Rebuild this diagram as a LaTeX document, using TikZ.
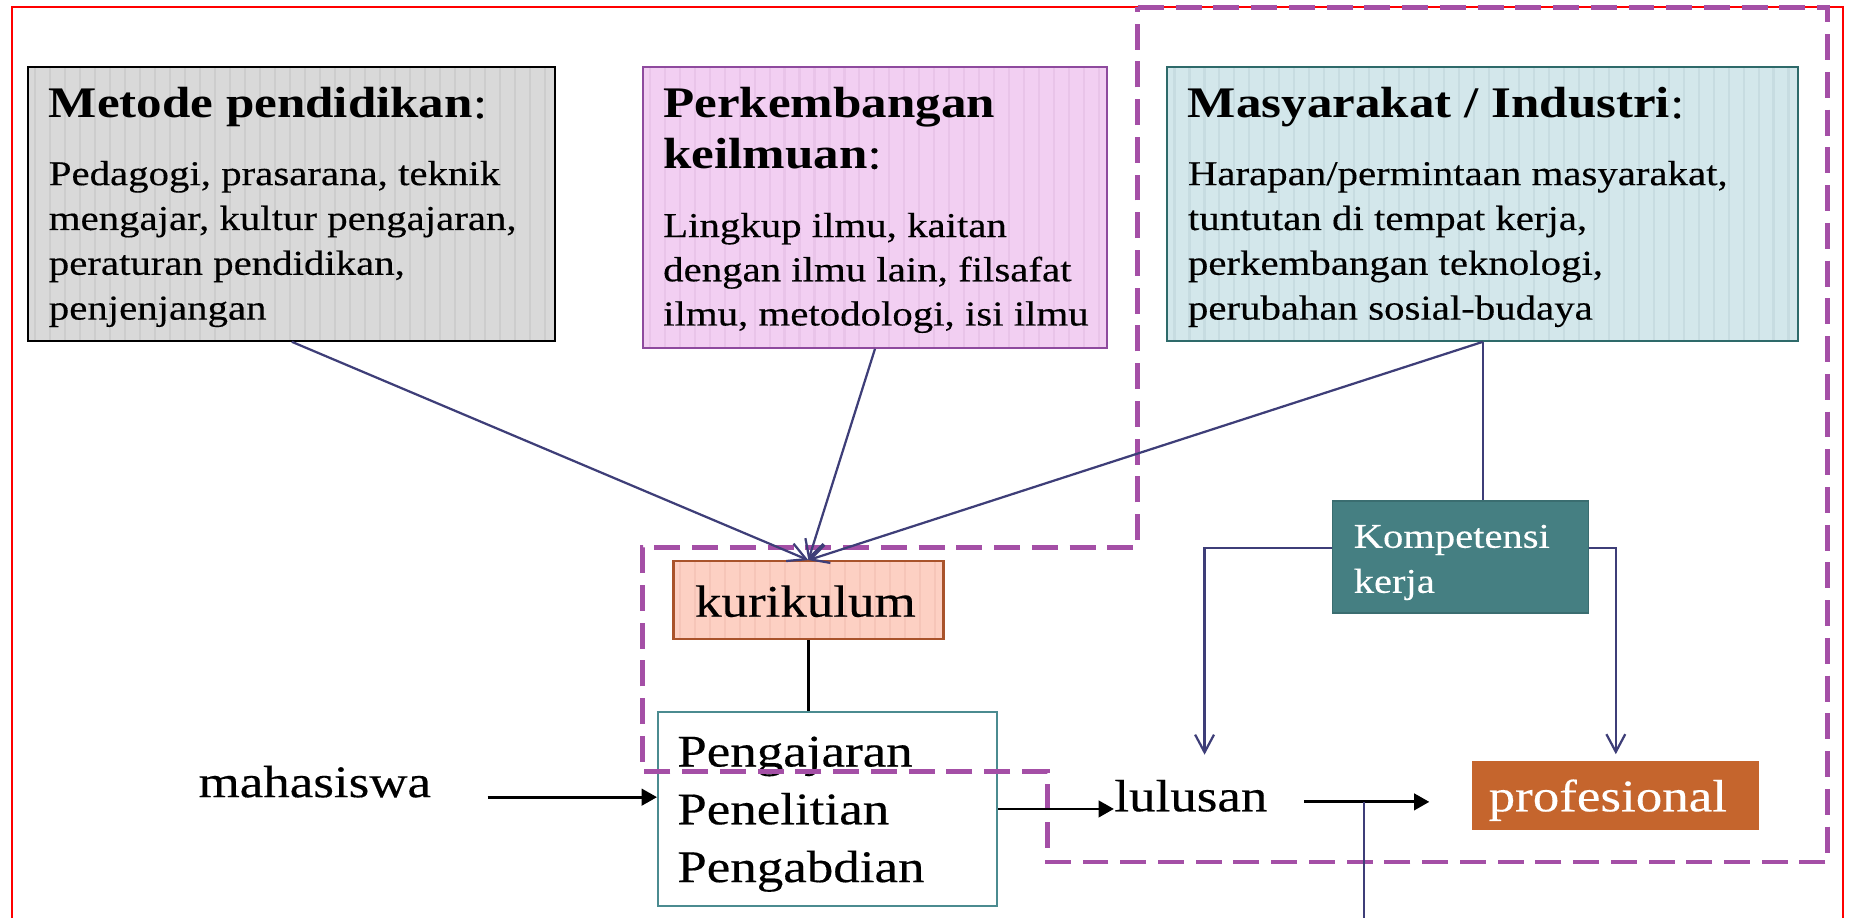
\documentclass[tikz,border=0pt]{standalone}
\usepackage{fontspec}
\setmainfont{Liberation Serif}[FakeStretch=1.17, UprightFeatures={FakeBold=0.3}]
\usetikzlibrary{arrows.meta,calc,fit}

\definecolor{frame}{HTML}{FF0000}
\definecolor{zone}{HTML}{A44FA6}
\definecolor{navy}{HTML}{3E3E78}
\definecolor{grayfill}{HTML}{D9D9D9}
\definecolor{graystripe}{HTML}{CDCDCD}
\definecolor{pinkfill}{HTML}{F2CFF2}
\definecolor{pinkstripe}{HTML}{E9C4E9}
\definecolor{pinkline}{HTML}{8E4A9E}
\definecolor{bluefill}{HTML}{D3E7EB}
\definecolor{bluestripe}{HTML}{C7DCE1}
\definecolor{blueline}{HTML}{2E6A6A}
\definecolor{salmonfill}{HTML}{FDD0C3}
\definecolor{salmonstripe}{HTML}{F6C5B8}
\definecolor{salmonline}{HTML}{A9532B}
\definecolor{tealfill}{HTML}{457F82}
\definecolor{tealline}{HTML}{3A6D70}
\definecolor{tealedge}{HTML}{4B8B90}
\definecolor{orangefill}{HTML}{C5652D}

\begin{document}
\begin{tikzpicture}[x=0.5pt,y=-0.5pt,
  txt/.style={inner sep=0pt, anchor=base west},
  body/.style={txt, font=\fontsize{14.8pt}{17pt}\selectfont},
  head/.style={txt, font=\fontsize{18.5pt}{21pt}\selectfont\bfseries},
  big/.style={txt, font=\fontsize{19.2pt}{22pt}\selectfont},
  small/.style={txt, font=\fontsize{14.7pt}{17pt}\selectfont, text=white},
  panel/.style={draw, inner sep=0pt, line width=0.85pt},
  stripes/.style={path picture={
      \foreach \i in {0,...,90}{
        \draw[#1, line width=0.9pt]
          ([xshift=\i*6.35pt+3pt]path picture bounding box.south west) --
          ([xshift=\i*6.35pt+3pt]path picture bounding box.north west);}}},
  navyline/.style={draw=navy, line width=0.95pt},
  navyarrow/.style={navyline, -{Straight Barb[length=7.5pt,width=8pt]}},
  blackline/.style={draw=black, line width=1.2pt},
  blackarrow/.style={blackline, -{Triangle[length=6.5pt,width=7pt]}},
  zoneline/.style={draw=zone, line width=2.1pt, dash pattern=on 11pt off 5pt}
]
\useasboundingbox (0,0) rectangle (1568,778);
\clip (0,0) rectangle (1568,778);

% outer frame
\draw[frame, line width=0.85pt] (10.5,6) rectangle (1563,820);

% input panels
\node[panel, fill=grayfill, stripes=graystripe, fit={(24,57) (471,289)}] (metode) {};
\node[panel, draw=pinkline, fill=pinkfill, stripes=pinkstripe, fit={(545,57) (939,295)}] (perkem) {};
\node[panel, draw=blueline, fill=bluefill, stripes=bluestripe, fit={(990,57) (1525,289)}] (masy) {};

\node[head] (mt1) at (41,100) {Metode pendidikan{\mdseries :}};
\node[body] (mb1) at (41,157) {Pedagogi, prasarana, teknik};
\node[body] (mb2) at (41,195) {mengajar, kultur pengajaran,};
\node[body] (mb3) at (41,233) {peraturan pendidikan,};
\node[body] (mb4) at (41,271) {penjenjangan};

\node[head] (pt1) at (562,100) {Perkembangan};
\node[head] (pt2) at (562,143) {keilmuan{\mdseries :}};
\node[body] (pb1) at (562,201) {Lingkup ilmu, kaitan};
\node[body] (pb2) at (562,238.5) {dengan ilmu lain, filsafat};
\node[body] (pb3) at (562,276) {ilmu, metodologi, isi ilmu};

\node[head] (st1) at (1007,100) {Masyarakat / Industri{\mdseries :}};
\node[body] (sb1) at (1007,157) {Harapan/permintaan masyarakat,};
\node[body] (sb2) at (1007,195) {tuntutan di tempat kerja,};
\node[body] (sb3) at (1007,233) {perkembangan teknologi,};
\node[body] (sb4) at (1007,271) {perubahan sosial-budaya};

% process boxes
\node[panel, draw=salmonline, line width=1pt, fill=salmonfill, stripes=salmonstripe, fit={(571,476) (800,542)}] (kuri) {};
\node[big] (kurit) at (589,523) {kurikulum};

\node[panel, draw=tealedge, fill=white, fit={(558,604) (845.5,768)}] (peng) {};
\node[big] (pg1) at (574,650) {Pengajaran};
\node[big] (pg2) at (574,699) {Penelitian};
\node[big] (pg3) at (574,748) {Pengabdian};

\node[panel, draw=tealline, line width=0.6pt, fill=tealfill, fit={(1130,425) (1347,520)}] (komp) {};
\node[small] (kp1) at (1147.6,464.5) {Kompetensi};
\node[small] (kp2) at (1147.6,502.7) {kerja};

\node[inner sep=0pt, fill=orangefill, fit={(1248.5,645.5) (1492,704)}] (prof) {};
\node[big, text=white] (proft) at (1262,688) {profesional};

\node[big] (maha) at (168,676) {mahasiswa};
\node[big] (lul) at (944.6,688) {lulusan};

% grouping outline
\draw[zoneline] (965,6) -- (1550,6) -- (1550,731) -- (888,731) -- (888,654.5)
  -- (545,654.5) -- (545,464) -- (965,464) -- cycle;

% influences on the curriculum
\draw[navyarrow] (metode.south) -- (kuri.north);
\draw[navyarrow] (perkem.south) -- (kuri.north);
\draw[navyarrow] (masy.south) -- (kuri.north);
\draw[navyline] (masy.south) -- (masy.south |- komp.north);

% competence branches
\coordinate (kl) at ($(komp.west)+(0,-7.5)$);
\coordinate (kr) at ($(komp.east)+(0,-7.5)$);
\coordinate (lulin) at (1021.5,640);
\coordinate (profin) at ($(prof.north)+(0,-5.5)$);
\draw[navyarrow] (kl) -| (lulin);
\draw[navyarrow] (kr) -| (profin);

% main flow
\draw[blackline] (kuri.south) -- (kuri.south |- peng.north);
\coordinate (mahaout) at ($(maha.base east)+(47.6,0)$);
\draw[blackarrow] (mahaout) -- (mahaout -| peng.west);
\draw[blackarrow] (peng.east) -- (peng.east -| lul.west);
\coordinate (lulout) at ($(lul.base east)+(31,-8)$);
\draw[blackarrow, shorten >=18pt] (lulout) -- (lulout -| prof.west);
\coordinate (jn) at ($(lulout)+(50.5,0)$);
\coordinate (down) at ($(jn)+(0,130)$);
\draw[navyline] (jn) -- (down);
\end{tikzpicture}
\end{document}
